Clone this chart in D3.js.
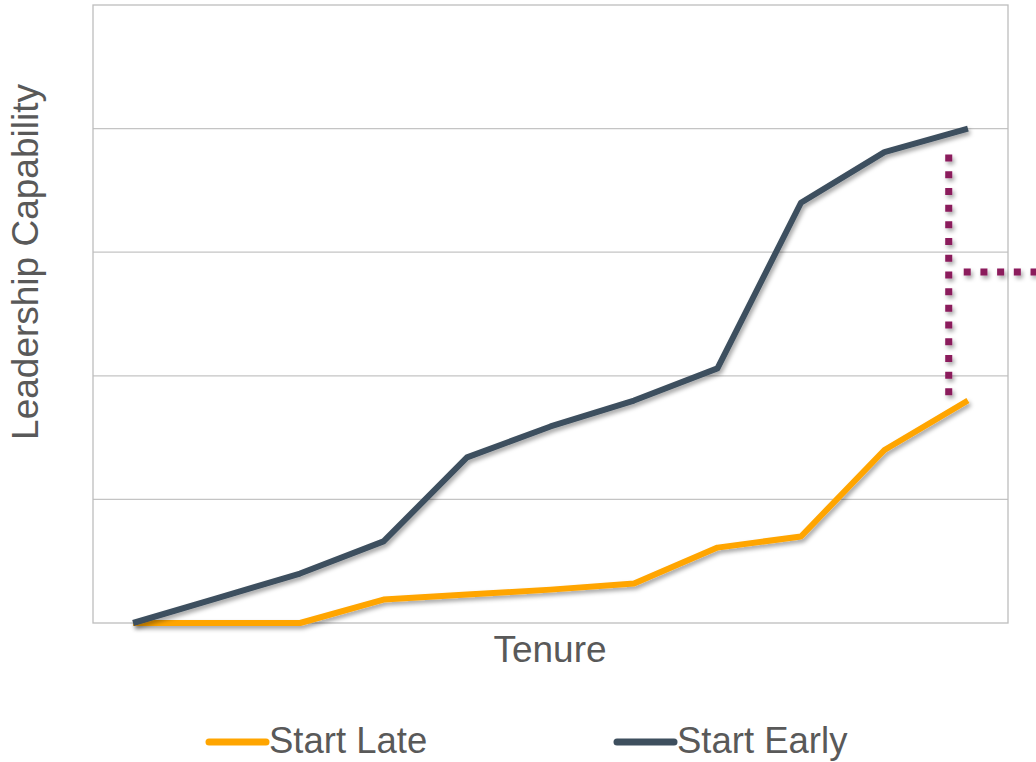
<!DOCTYPE html>
<html>
<head>
<meta charset="utf-8">
<script src="https://cdn.jsdelivr.net/npm/d3@7"></script>
<style>
  body { margin: 0; background: #fff; }
  text { font-family: "Liberation Sans", Arial, sans-serif; fill: #595959; }
</style>
</head>
<body>
<div id="chart"></div>
<script>
// tenure steps (no tick labels shown on the chart)
const tenure = ["1", "2", "3", "4", "5", "6", "7", "8", "9", "10", "11"];
const startEarly = [0, 0.2, 0.4, 0.66, 1.34, 1.59, 1.8, 2.06, 3.4, 3.81, 4.0];
const startLate = [0, 0, 0, 0.19, 0.23, 0.27, 0.32, 0.61, 0.7, 1.4, 1.8];
const gridValues = [1, 2, 3, 4];

// gap bracket between the two curves at the end
const gapX = 9.77;          // position along tenure index
const gapRange = [1.84, 3.79];
const gapMid = 2.84;

const width = 1036, height = 762;
const margin = {top: 5, right: 28, bottom: 139, left: 93};
const innerWidth = width - margin.left - margin.right;
const innerHeight = height - margin.top - margin.bottom;

const svgRoot = d3.select("#chart")
    .append("svg")
    .attr("width", width)
    .attr("height", height);

// soft shadow like the original office chart
const defs = svgRoot.append("defs");
defs.append("filter")
    .attr("id", "shadow")
    .attr("x", "-10%").attr("y", "-10%")
    .attr("width", "130%").attr("height", "130%")
    .append("feDropShadow")
    .attr("dx", 2).attr("dy", 3)
    .attr("stdDeviation", 2)
    .attr("flood-color", "#000")
    .attr("flood-opacity", 0.35);

const svg = svgRoot.append("g")
    .attr("transform", `translate(${margin.left},${margin.top})`);

const xScale = d3.scalePoint().domain(tenure).range([0, innerWidth]).padding(0.48);
const yScale = d3.scaleLinear().domain([0, 5]).range([innerHeight, 0]);
const xIndex = d3.scaleLinear().domain([0, tenure.length - 1])
    .range([xScale(tenure[0]), xScale(tenure[tenure.length - 1])]);

// gridlines
svg.append("g")
    .selectAll("line")
    .data(gridValues)
    .join("line")
    .attr("x1", 0)
    .attr("x2", innerWidth)
    .attr("y1", d => yScale(d))
    .attr("y2", d => yScale(d))
    .attr("stroke", "#c4c4c4")
    .attr("stroke-width", 1.3);

// frame
svg.append("rect")
    .attr("x", 0).attr("y", 0)
    .attr("width", innerWidth).attr("height", innerHeight)
    .attr("fill", "none")
    .attr("stroke", "#bdbdbd")
    .attr("stroke-width", 1.3);

const line = d3.line()
    .x((d, i) => xScale(tenure[i]))
    .y(d => yScale(d));

const series = [
    {name: "Start Late", values: startLate, color: "#FFA500"},
    {name: "Start Early", values: startEarly, color: "#3E4F5E"}
];

svg.selectAll(".series")
    .data(series)
    .join("path")
    .attr("class", "series")
    .attr("d", d => line(d.values))
    .attr("fill", "none")
    .attr("stroke", d => d.color)
    .attr("stroke-width", 6)
    .attr("stroke-linejoin", "round")
    .attr("filter", "url(#shadow)");

// dotted bracket
const bracket = svg.append("g").attr("filter", "url(#shadow)");
bracket.append("line")
    .attr("x1", xIndex(gapX)).attr("x2", xIndex(gapX))
    .attr("y1", yScale(gapRange[1])).attr("y2", yScale(gapRange[0]))
    .attr("stroke", "#8B1A5C")
    .attr("stroke-width", 7)
    .attr("stroke-dasharray", "7,9.7");
bracket.append("line")
    .attr("x1", xIndex(gapX) + 15).attr("x2", width - margin.left)
    .attr("y1", yScale(gapMid)).attr("y2", yScale(gapMid))
    .attr("stroke", "#8B1A5C")
    .attr("stroke-width", 7)
    .attr("stroke-dasharray", "7,9.7");

// axis titles
svg.append("text")
    .attr("x", 457)
    .attr("y", innerHeight + 39)
    .attr("text-anchor", "middle")
    .style("font-size", "37px")
    .text("Tenure");

svg.append("text")
    .attr("transform", "rotate(-90)")
    .attr("x", -257)
    .attr("y", -55)
    .attr("text-anchor", "middle")
    .style("font-size", "37px")
    .text("Leadership Capability");

// legend
const legendX = [209, 617];
const legend = svgRoot.append("g");
const items = legend.selectAll("g")
    .data(series)
    .join("g")
    .attr("transform", (d, i) => `translate(${legendX[i]},742)`);
items.append("line")
    .attr("x1", 0).attr("x2", 57)
    .attr("stroke", d => d.color)
    .attr("stroke-width", 7)
    .attr("stroke-linecap", "round");
items.append("text")
    .attr("x", 60)
    .attr("y", 11)
    .style("font-size", "36.5px")
    .text(d => d.name);
</script>
</body>
</html>
